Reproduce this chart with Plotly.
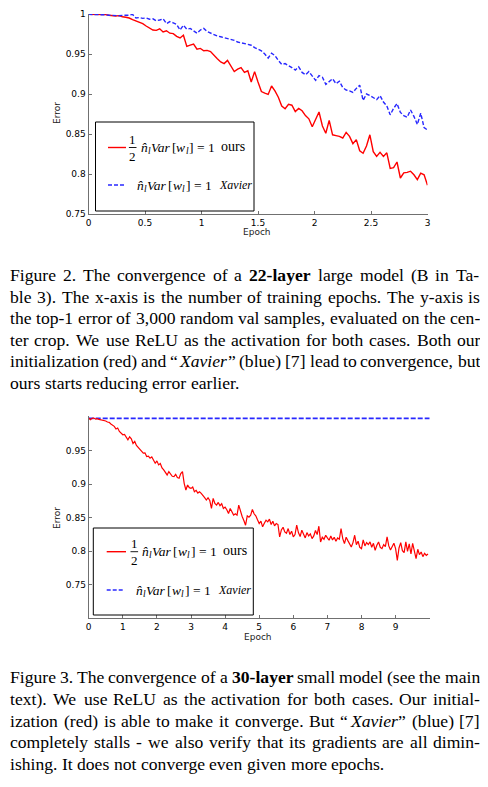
import re
import plotly.graph_objects as go

# The page body has an 8px default margin, so the figure is drawn 8px in from the
# top-left corner of the 488x787 window; size it to fill exactly the rest.
PAGE_W, PAGE_H = 488, 787
OFF = 8
W, H = PAGE_W - OFF, PAGE_H - OFF

# ---------------- Data: Figure 2 (22-layer large model) ----------------
fig2_step = 0.03  # epochs between samples
fig2_ours = [
    0.9995, 0.9995, 0.9993, 0.9995, 0.9990, 0.9992, 0.9985, 0.9980, 0.9975, 0.9980,
    0.9965, 0.9960, 0.9950, 0.9930, 0.9915, 0.9900, 0.9880, 0.9850, 0.9820, 0.9800,
    0.9795, 0.9815, 0.9775, 0.9790, 0.9760, 0.9755, 0.9720, 0.9700, 0.9735, 0.9595,
    0.9610, 0.9625, 0.9560, 0.9570, 0.9540, 0.9545, 0.9530, 0.9480, 0.9440, 0.9400,
    0.9380, 0.9420, 0.9340, 0.9280, 0.9310, 0.9330, 0.9270, 0.9290, 0.9150, 0.9280,
    0.9150, 0.9030, 0.9010, 0.8995, 0.9100, 0.9040, 0.8960, 0.8850, 0.8815, 0.8870,
    0.8860, 0.8780, 0.8820, 0.8790, 0.8730, 0.8690, 0.8590, 0.8680, 0.8775, 0.8600,
    0.8510, 0.8670, 0.8490, 0.8480, 0.8470, 0.8450, 0.8520, 0.8470, 0.8380, 0.8430,
    0.8290, 0.8260, 0.8350, 0.8490, 0.8280, 0.8220, 0.8270, 0.8220, 0.8265, 0.8070,
    0.8080, 0.8150, 0.7950, 0.8015, 0.8020, 0.8035, 0.7990, 0.7930, 0.8010, 0.7990,
    0.7860,
]
fig2_xavier = [
    0.9995, 0.9995, 0.9990, 0.9993, 0.9988, 0.9990, 0.9985, 0.9980, 0.9982, 0.9978,
    0.9983, 0.9980, 0.9985, 0.9995, 0.9950, 0.9955, 0.9945, 0.9950, 0.9935, 0.9940,
    0.9915, 0.9925, 0.9940, 0.9880, 0.9905, 0.9890, 0.9870, 0.9800, 0.9860, 0.9810,
    0.9820, 0.9790, 0.9760, 0.9800, 0.9820, 0.9780, 0.9760, 0.9740, 0.9725, 0.9715,
    0.9705, 0.9690, 0.9680, 0.9670, 0.9650, 0.9640, 0.9630, 0.9620, 0.9610, 0.9580,
    0.9560, 0.9540, 0.9500, 0.9450, 0.9510, 0.9480, 0.9420, 0.9370, 0.9380, 0.9360,
    0.9330, 0.9300, 0.9340, 0.9270, 0.9240, 0.9280, 0.9220, 0.9170, 0.9230, 0.9210,
    0.9120, 0.9150, 0.9190, 0.9130, 0.9160, 0.9080, 0.9050, 0.9040, 0.9020, 0.9070,
    0.9110, 0.8920, 0.9000, 0.8980, 0.8960, 0.8930, 0.8980, 0.8900, 0.8850, 0.8740,
    0.8820, 0.8880, 0.8770, 0.8730, 0.8710, 0.8800, 0.8720, 0.8620, 0.8760, 0.8580,
    0.8550,
]
fig2_xticks = [0, 0.5, 1, 1.5, 2, 2.5, 3]
fig2_xticktext = ["0", "0.5", "1", "1.5", "2", "2.5", "3"]
fig2_yticks = [0.75, 0.8, 0.85, 0.9, 0.95, 1.0]
fig2_yticktext = ["0.75", "0.8", "0.85", "0.9", "0.95", "1"]

# ---------------- Data: Figure 3 (30-layer small model) ----------------
fig3_step = 0.05
fig3_ours = [
    0.9990, 0.9965, 0.9985, 0.9990, 0.9975, 0.9980, 0.9970, 0.9965, 0.9960, 0.9950,
    0.9945, 0.9930, 0.9925, 0.9900, 0.9880, 0.9865, 0.9825, 0.9840, 0.9790, 0.9760,
    0.9740, 0.9745, 0.9710, 0.9665, 0.9710, 0.9680, 0.9610, 0.9640, 0.9580, 0.9550,
    0.9530, 0.9500, 0.9465, 0.9470, 0.9415, 0.9420, 0.9390, 0.9410, 0.9360, 0.9315,
    0.9350, 0.9290, 0.9310, 0.9245, 0.9215, 0.9180, 0.9140, 0.9190, 0.9150, 0.9120,
    0.9115, 0.9150, 0.9100, 0.9090, 0.9160, 0.9190, 0.9015, 0.8915, 0.8990, 0.8950,
    0.8940, 0.8960, 0.8890, 0.8910, 0.8870, 0.8890, 0.8865, 0.8840, 0.8800, 0.8765,
    0.8800, 0.8760, 0.8640, 0.8790, 0.8715, 0.8690, 0.8730, 0.8680, 0.8710, 0.8640,
    0.8660, 0.8620, 0.8565, 0.8640, 0.8600, 0.8540, 0.8560, 0.8540, 0.8690, 0.8580,
    0.8520, 0.8460, 0.8390, 0.8530, 0.8510, 0.8540, 0.8625, 0.8560, 0.8530, 0.8470,
    0.8415, 0.8450, 0.8365, 0.8420, 0.8465, 0.8440, 0.8480, 0.8400, 0.8450, 0.8380,
    0.8415, 0.8400, 0.8215, 0.8320, 0.8360, 0.8290, 0.8270, 0.8340, 0.8250, 0.8300,
    0.8215, 0.8250, 0.8390, 0.8280, 0.8220, 0.8315, 0.8250, 0.8200, 0.8280, 0.8230,
    0.8260, 0.8190, 0.8230, 0.8310, 0.8250, 0.8375, 0.8140, 0.8210, 0.8180, 0.8240,
    0.8200, 0.8165, 0.8230, 0.8170, 0.8210, 0.8150, 0.8200, 0.8180, 0.8340, 0.8190,
    0.8115, 0.8210, 0.8160, 0.8120, 0.8065, 0.8130, 0.8240, 0.8100, 0.8150, 0.8060,
    0.8040, 0.8170, 0.8080, 0.8130, 0.8100, 0.8140, 0.8060, 0.8120, 0.8015, 0.8090,
    0.8140, 0.8060, 0.8040, 0.8100, 0.8070, 0.8215, 0.8080, 0.8020, 0.8060, 0.8120,
    0.8040, 0.7865, 0.8050, 0.8130, 0.8010, 0.7980, 0.8140, 0.8000, 0.8110, 0.7960,
    0.8120, 0.7990, 0.7890, 0.8030, 0.7950, 0.7990, 0.7920, 0.7970, 0.7940, 0.7960,
]
fig3_xavier_epoch = [0, 1, 2, 3, 4, 5, 6, 7, 8, 9, 10]
fig3_xavier = [0.9985, 0.9985, 0.9985, 0.9985, 0.9985, 0.9985, 0.9985, 0.9985, 0.9985, 0.9985, 0.9985]
fig3_xticks = [0, 1, 2, 3, 4, 5, 6, 7, 8, 9]
fig3_yticks = [0.75, 0.8, 0.85, 0.9, 0.95]
fig3_yticktext = ["0.75", "0.8", "0.85", "0.9", "0.95"]

# ---------------- Captions ----------------
caption2 = [
    "Figure 2. The convergence of a <b>22-layer</b> large model (B in Ta-",
    "ble 3). The x-axis is the number of training epochs. The y-axis is",
    "the top-1 error of 3,000 random val samples, evaluated on the cen-",
    "ter crop. We use ReLU as the activation for both cases. Both our",
    "initialization (red) and \u201c<i>Xavier</i>\u201d (blue) [7] lead to convergence, but",
    "ours starts reducing error earlier.",
]
caption3 = [
    "Figure 3. The convergence of a <b>30-layer</b> small model (see the main",
    "text). We use ReLU as the activation for both cases. Our initial-",
    "ization (red) is able to make it converge. But \u201c<i>Xavier</i>\u201d (blue) [7]",
    "completely stalls - we also verify that its gradients are all dimin-",
    "ishing. It does not converge even given more epochs.",
]

RED = "rgb(255,0,0)"
BLUE = "rgb(40,40,255)"
AXIS = "#707070"
SERIF = "Liberation Serif, Times New Roman, serif"
SANS = "DejaVu Sans, Verdana, sans-serif"
TICKFONT = dict(family=SANS, size=9, color="black")


def px(x):
    """page pixel x -> paper fraction"""
    return (x - OFF) / W


def py(y):
    """page pixel y -> paper fraction"""
    return 1 - (y - OFF) / H


# Times (Liberation Serif) advance widths, 1/1000 em
_TR = {' ': 250, '!': 333, '(': 333, ')': 333, ',': 250, '-': 333, '.': 250, ':': 278,
       '[': 333, ']': 333, '=': 564, '\u201c': 444, '\u201d': 444,
       'A': 722, 'B': 667, 'C': 667, 'D': 722, 'E': 611, 'F': 556, 'G': 722, 'H': 722,
       'I': 333, 'J': 389, 'K': 722, 'L': 611, 'M': 889, 'N': 722, 'O': 722, 'P': 556,
       'Q': 722, 'R': 667, 'S': 556, 'T': 611, 'U': 722, 'V': 722, 'W': 944, 'X': 722,
       'Y': 722, 'Z': 611,
       'a': 444, 'b': 500, 'c': 444, 'd': 500, 'e': 444, 'f': 333, 'g': 500, 'h': 500,
       'i': 278, 'j': 278, 'k': 500, 'l': 278, 'm': 778, 'n': 500, 'o': 500, 'p': 500,
       'q': 500, 'r': 333, 's': 389, 't': 278, 'u': 500, 'v': 500, 'w': 722, 'x': 500,
       'y': 500, 'z': 444}
_TB = dict(_TR, **{'a': 500, 'r': 444, 'y': 500, 'e': 444, 'l': 278, '-': 333})
_TI = dict(_TR, **{'X': 611, 'V': 611, 'a': 500, 'v': 444, 'i': 278, 'e': 444, 'r': 389,
                   'n': 500, 'w': 667, 'l': 278})
TABLES = {"r": _TR, "b": _TB, "i": _TI}
SEG_PAD = 1.5  # extra room between differently styled pieces of one word


def text_width(s, style, size):
    t = TABLES[style]
    return sum(t.get(ch, 0 if ch == "\u0302" else (500 if ch.isdigit() else 444)) for ch in s) * size / 1000.0


def segments(word):
    """split a word with <b>/<i> markup into (text, style) pieces"""
    out, style = [], "r"
    for tok in re.split(r"(</?[bi]>)", word):
        if tok in ("<b>", "<i>"):
            style = tok[1]
        elif tok in ("</b>", "</i>"):
            style = "r"
        elif tok:
            out.append((tok, style))
    return out


def seg_widths(segs, size):
    return sum(text_width(t, s, size) for t, s in segs) + SEG_PAD * (len(segs) - 1)


def text_ann(x, y, text, size, style="r", family=SERIF, xanchor="left"):
    font = dict(family=family, size=size, color="black")
    if style == "b":
        font["weight"] = "bold"
    elif style == "i":
        font["style"] = "italic"
    return dict(xref="paper", yref="paper", x=px(x), y=py(y), text=text, showarrow=False,
                xanchor=xanchor, yanchor="middle", font=font)


def add_caption(lines, centers, left, right, size, annotations):
    for k, (line, yc) in enumerate(zip(lines, centers)):
        words = [segments(w) for w in line.split(" ")]
        widths = [seg_widths(w, size) for w in words]
        if k == len(lines) - 1:
            gap = 0.250 * size
        else:
            gap = (right - left - sum(widths)) / (len(words) - 1)
        x = left
        for segs, wd in zip(words, widths):
            sx = x
            for t, s in segs:
                annotations.append(text_ann(sx, yc, t, size, s))
                sx += text_width(t, s, size) + SEG_PAD
            x += wd + gap


fig2_epoch = [i * fig2_step for i in range(len(fig2_ours))]
fig3_epoch = [i * fig3_step for i in range(len(fig3_ours))]

fig = go.Figure()
fig.add_trace(go.Scatter(x=fig2_epoch, y=fig2_ours, mode="lines",
                         line=dict(color=RED, width=1.4), xaxis="x", yaxis="y"))
fig.add_trace(go.Scatter(x=fig2_epoch, y=fig2_xavier, mode="lines",
                         line=dict(color=BLUE, width=1.4, dash="4px,2px"), xaxis="x", yaxis="y"))
fig.add_trace(go.Scatter(x=fig3_xavier_epoch, y=fig3_xavier, mode="lines",
                         line=dict(color=BLUE, width=1.6, dash="5px,2px"), xaxis="x2", yaxis="y2"))
fig.add_trace(go.Scatter(x=fig3_epoch, y=fig3_ours, mode="lines",
                         line=dict(color=RED, width=1.2), xaxis="x2", yaxis="y2"))

axis_common = dict(showline=True, linecolor=AXIS, linewidth=1, ticks="inside", ticklen=3,
                   tickcolor=AXIS, tickwidth=1, showgrid=False, zeroline=False,
                   tickfont=TICKFONT, fixedrange=True, automargin=False)

fig.update_layout(
    template="none",
    width=W, height=H, margin=dict(l=0, r=0, t=0, b=0, pad=0, autoexpand=False),
    paper_bgcolor="white", plot_bgcolor="white", showlegend=False,
    font=dict(family=SANS, size=9, color="black"),
    xaxis=dict(domain=[px(88.5), px(427.5)], anchor="y", range=[0, 3],
               tickvals=fig2_xticks, ticktext=fig2_xticktext, **axis_common),
    yaxis=dict(domain=[py(214), py(14)], anchor="x", range=[0.75, 1.0],
               tickvals=fig2_yticks, ticktext=fig2_yticktext, **axis_common),
    xaxis2=dict(domain=[px(88.7), px(429.7)], anchor="y2", range=[0, 10],
                tickvals=fig3_xticks, **axis_common),
    yaxis2=dict(domain=[py(618.3), py(416)], anchor="x2", range=[0.70, 1.002],
                tickvals=fig3_yticks, ticktext=fig3_yticktext, **axis_common),
)

shapes = []
annotations = []

# legend formula  n̂_l Var[w_l] = 1  as (text, style, subscript) pieces
MATH_PIECES = [("n\u0302", "i", False), ("l", "i", True), ("Var", "i", False), ("[", "r", False),
               ("w", "i", False), ("l", "i", True), ("]", "r", False), ("= 1", "r", False)]


def add_math(x, y, size):
    sub = size * 0.7
    for t, s, is_sub in MATH_PIECES:
        if t.startswith("="):
            x += 0.25 * size
        if is_sub:
            annotations.append(text_ann(x + 0.3, y + size * 0.28, t, sub, s))
            x += text_width(t, s, sub) + 0.8
        else:
            annotations.append(text_ann(x, y, t, size, s))
            x += text_width(t, s, size) + 0.3


def legend(box, red_y, blue_y, red_x, frac_x, math1_x, ours_x, math2_x, xav_x):
    x0, y0, x1, y1 = box
    shapes.append(dict(type="rect", xref="paper", yref="paper", x0=px(x0), x1=px(x1),
                       y0=py(y1), y1=py(y0), line=dict(color="black", width=1),
                       fillcolor="white", layer="above"))
    shapes.append(dict(type="line", xref="paper", yref="paper", x0=px(red_x[0]), x1=px(red_x[1]),
                       y0=py(red_y), y1=py(red_y), line=dict(color=RED, width=1.4)))
    shapes.append(dict(type="line", xref="paper", yref="paper", x0=px(red_x[0]), x1=px(red_x[1] - 2),
                       y0=py(blue_y), y1=py(blue_y), line=dict(color=BLUE, width=1.4, dash="4px,2px")))
    # fraction 1/2
    shapes.append(dict(type="line", xref="paper", yref="paper", x0=px(frac_x - 3.8), x1=px(frac_x + 3.8),
                       y0=py(red_y), y1=py(red_y), line=dict(color="black", width=0.9)))
    annotations.append(text_ann(frac_x, red_y - 8.5, "1", 13, xanchor="center"))
    annotations.append(text_ann(frac_x, red_y + 9, "2", 13, xanchor="center"))
    add_math(math1_x, red_y, 13.5)
    annotations.append(text_ann(ours_x, red_y - 1, "ours", 14))
    add_math(math2_x, blue_y, 13.5)
    annotations.append(text_ann(xav_x, blue_y, "Xavier", 12, "i"))


legend((95.5, 122, 254, 211), 147.5, 185, (108, 126), 132.7, 138.5, 219, 135, 217)
legend((93.3, 528, 253.3, 615), 551.7, 590, (106.7, 126), 134.3, 140, 221, 134, 216)

# axis titles
for (x, y, t, ang) in [(57, 113, "Error", -90), (257, 232, "Epoch", 0),
                       (57, 518, "Error", -90), (258, 637, "Epoch", 0)]:
    annotations.append(dict(xref="paper", yref="paper", x=px(x), y=py(y), text=t, textangle=ang,
                            showarrow=False, xanchor="center", yanchor="middle",
                            font=dict(family=SANS, size=9, color="#222")))

# captions (justified like the paper)
CAP_SIZE = 17.6
add_caption(caption2, [275.0, 296.6, 318.2, 339.8, 361.4, 383.0], 8, 478, CAP_SIZE, annotations)
add_caption(caption3, [677.3, 699.0, 720.7, 742.3, 764.0], 8, 478, CAP_SIZE, annotations)

fig.update_layout(shapes=shapes, annotations=annotations)
fig.write_html("out.html")
